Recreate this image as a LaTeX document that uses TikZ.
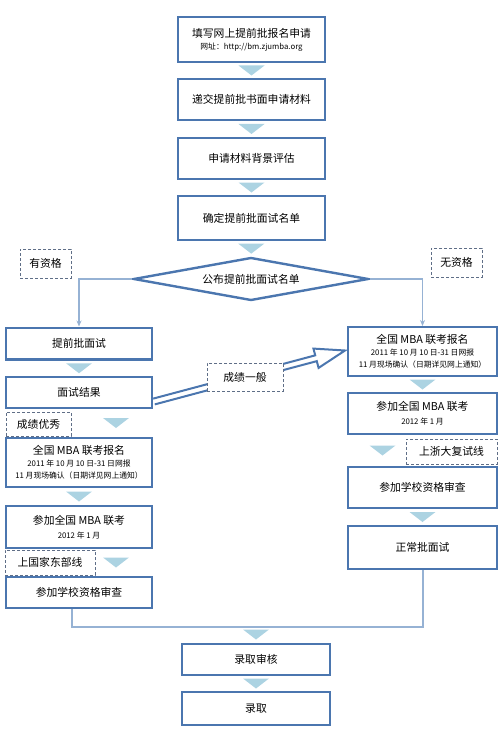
\documentclass[tikz,border=0pt]{standalone}
\usepackage{fontspec}
\setmainfont{Noto Sans CJK SC}
\usetikzlibrary{shapes.geometric,calc,arrows.meta}
\definecolor{boxblue}{RGB}{75,118,175}
\definecolor{trifill}{RGB}{172,211,226}
\definecolor{connblue}{RGB}{150,178,212}
\definecolor{labgray}{RGB}{95,110,135}
\newcommand\mainsz{\fontsize{10.8}{13}\selectfont}
\newcommand\smsz{\fontsize{7.8}{10}\selectfont}
\newcommand\dtri[1]{\fill[trifill] #1 ++(-13,-5) -- ++(26,0) -- ++(-13,10) -- cycle;}
\begin{document}
\begin{tikzpicture}[x=1pt,y=-1pt,
  box/.style={draw=boxblue,line width=2.4pt,fill=white,minimum width=#1,inner sep=1pt,align=center,font=\mainsz},
  box/.default=146.6pt,
  lab/.style={draw=labgray,dashed,dash pattern=on 3pt off 2pt,line width=0.7pt,fill=white,inner sep=0pt,font=\mainsz},
  conn/.style={draw=connblue,line width=1.4pt},
  tip/.style={-{Stealth[length=6pt,width=5pt]}},
  barrow/.style={draw=boxblue,line width=2pt,fill=white,line join=miter}]
\useasboundingbox (0,0) rectangle (503,730);

% top column
\node[box,minimum height=44.6pt] (b1) at (251.5,39.5) {填写网上提前批报名申请\\[-1pt]{\smsz 网址：http://bm.zjumba.org}};
\node[box,minimum height=40.6pt] (b2) at (251.5,99.5) {递交提前批书面申请材料};
\node[box,minimum height=40.6pt] (b3) at (251.5,158.5) {申请材料背景评估};
\node[box,minimum height=43.6pt] (b4) at (251.5,218) {确定提前批面试名单};
\node[diamond,draw=boxblue,line width=2.4pt,fill=white,aspect=5.4,inner sep=0pt,
  minimum width=235pt,minimum height=43pt,font=\mainsz] (dia) at (251,279) {公布提前批面试名单};

% left column
\node[box=145.6pt,minimum height=31.6pt] (l1) at (79,343.5) {提前批面试};
\node[box=145.6pt,minimum height=30.6pt] (l2) at (79,392.5) {面试结果};
\node[box=145.6pt,minimum height=48.6pt] (l3) at (79,462.5) {全国 MBA 联考报名\\[-1pt]{\smsz 2011 年 10 月 10 日-31 日网报}\\[-1pt]{\smsz 11 月现场确认（日期详见网上通知）}};
\node[box=145.6pt,minimum height=41.6pt] (l4) at (79,527) {参加全国 MBA 联考\\[1pt]{\smsz 2012 年 1 月}};
\node[box=145.6pt,minimum height=30.6pt] (l5) at (79,592.5) {参加学校资格审查};

% right column
\node[box=148.6pt,minimum height=48.6pt] (r1) at (422.5,351.5) {全国 MBA 联考报名\\[-1pt]{\smsz 2011 年 10 月 10 日-31 日网报}\\[-1pt]{\smsz 11 月现场确认（日期详见网上通知）}};
\node[box=148.6pt,minimum height=40.6pt] (r2) at (422.5,413.5) {参加全国 MBA 联考\\[1pt]{\smsz 2012 年 1 月}};
\node[box=148.6pt,minimum height=40.6pt] (r3) at (422.5,487.5) {参加学校资格审查};
\node[box=148.6pt,minimum height=42.6pt] (r4) at (422.5,547.5) {正常批面试};

% bottom
\node[box=147.6pt,minimum height=30.6pt] (s1) at (256,659.5) {录取审核};
\node[box=147.6pt,minimum height=32.6pt] (s2) at (256,708.5) {录取};

% triangles
\dtri{($(b1.south)!0.5!(b2.north)$)}
\dtri{($(b2.south)!0.5!(b3.north)$)}
\dtri{($(b3.south)!0.5!(b4.north)$)}
\dtri{($(b4.south)!0.5!(dia.north)$)}
\dtri{($(l1.south)!0.5!(l2.north)$)}
\dtri{($(l2.south)!0.5!(l3.north)+(37,0)$)}
\dtri{($(l3.south)!0.5!(l4.north)$)}
\dtri{($(l4.south)!0.5!(l5.north)+(37,0)$)}
\dtri{($(r1.south)!0.5!(r2.north)$)}
\dtri{($(r2.south)!0.5!(r3.north)+(-40,0)$)}
\dtri{($(r3.south)!0.5!(r4.north)$)}
\dtri{($(s1.north)+(0,-8.5)$)}
\dtri{($(s1.south)!0.5!(s2.north)$)}

% connectors
\draw[conn,tip] (dia.west) -| (l1.north);
\draw[conn,tip] (dia.east) -| (r1.north);
\coordinate (j1) at (72,627);
\coordinate (j2) at (423,627);
\draw[conn] (l5.south -| j1) -- (j1) -- (j2) -- (r4.south -| j2);

% block arrow
\filldraw[barrow] let \p1=($(l2.east)+(1,9)$), \p2=($(r1.west)+(-2,-1)$),
  \n1={atan2(\y2-\y1,\x2-\x1)}, \n2={veclen(\x2-\x1,\y2-\y1)} in
  ($(\p1)+(\n1+90:3pt)$) -- ($(\p1)+(\n1:{\n2-30pt})+(\n1+90:3pt)$)
  -- ($(\p1)+(\n1:{\n2-30pt})+(\n1+90:10pt)$) -- (\p2)
  -- ($(\p1)+(\n1:{\n2-30pt})+(\n1-90:10pt)$)
  -- ($(\p1)+(\n1:{\n2-30pt})+(\n1-90:3pt)$) -- ($(\p1)+(\n1-90:3pt)$);

% labels
\node[lab,minimum width=51pt,minimum height=29pt] (q1) at (45.5,263.5) {有资格};
\node[lab,minimum width=51pt,minimum height=29pt] (q2) at (456.5,262.5) {无资格};
\node[lab,minimum width=65pt,minimum height=24pt] (q3) at (38.5,424) {成绩优秀};
\node[lab,minimum width=90pt,minimum height=25pt] (q4) at (50,562.5) {上国家东部线};
\node[lab,minimum width=91pt,minimum height=25pt] (q5) at (451.5,451.5) {上浙大复试线};
\node[lab,minimum width=76pt,minimum height=28pt] (q6) at (245,377) {成绩一般};
\end{tikzpicture}
\end{document}
